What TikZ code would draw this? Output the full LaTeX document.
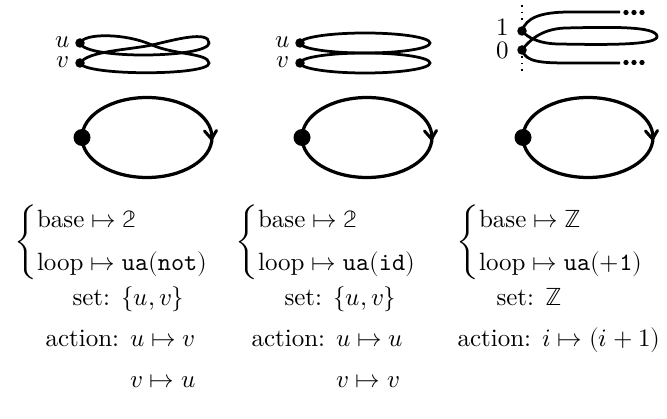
\documentclass[tikz,border=0pt]{standalone}
\usepackage{amsmath}
\usepackage{unicode-math}
\setmathfont{Latin Modern Math}
\usetikzlibrary{arrows.meta}
\tikzset{
  cover/.style={line width=1.1pt},
  circ/.style={line width=1.3pt},
  chevron/.style={line width=1.2pt,line cap=round,line join=round},
  sdot/.style={circle,fill,inner sep=0pt,minimum size=3.8pt},
  bdot/.style={circle,fill,inner sep=0pt,minimum size=6.8pt},
  tdot/.style={circle,fill,inner sep=0pt,minimum size=2.1pt},
  lab/.style={inner sep=0pt},
  txt/.style={inner sep=0pt,anchor=base west},
}
\begin{document}
\begin{tikzpicture}[x=0.4pt,y=-0.4pt]
\useasboundingbox (0,0) rectangle (667,419);
% ---------- column 1 top: swap cover ----------
\node[sdot] (u1) at (80,43) {};
\node[sdot] (v1) at (80,63) {};
\node[lab] (lu1) at (63,42) {$u$};
\node[lab] (lv1) at (63,62) {$v$};
\draw[cover] (u1.center) .. controls (84,33) and (125,33) .. (152,45)
  .. controls (175,55) and (208,53) .. (209,63)
  .. controls (210,76) and (84,76) .. (v1.center);
\draw[cover] (v1.center) .. controls (88,51) and (128,50) .. (152,45)
  .. controls (174,40) and (209,30) .. (209,43)
  .. controls (209,58) and (85,60) .. (u1.center);
% ---------- column 2 top: trivial cover ----------
\node[sdot] (u2) at (300,43) {};
\node[sdot] (v2) at (300,63) {};
\node[lab] (lu2) at (283,42) {$u$};
\node[lab] (lv2) at (283,62) {$v$};
\draw[cover] (365,43) ellipse [x radius=65,y radius=10];
\draw[cover] (365,63) ellipse [x radius=65,y radius=10];
% ---------- column 3 top: universal cover ----------
\node[sdot] (p1) at (522,31) {};
\node[sdot] (p0) at (522,50) {};
\node[lab] (l1) at (503,27) {$1$};
\node[lab] (l0) at (503,50) {$0$};
\draw[dotted,line width=0.7pt] (522,5) -- (522,25);
\draw[dotted,line width=0.7pt] (522,56) -- (522,73);
\draw[cover] (p1.center) .. controls (526,18) and (540,12) .. (570,12) -- (620,12);
\draw[cover] (p0.center) .. controls (526,62) and (540,63) .. (570,63) -- (620,63);
\draw[cover] (p0.center) .. controls (528,42) and (540,29) .. (565,28)
  .. controls (610,27) and (655,26) .. (657,36)
  .. controls (659,45) and (610,45) .. (560,44)
  .. controls (540,44) and (528,38) .. (p1.center);
\foreach \i/\x in {1/626,2/634,3/642}{
  \node[tdot] (ta\i) at (\x,12.5) {};
  \node[tdot] (tb\i) at (\x,62.5) {};
}
% ---------- row 2: circles ----------
\foreach \c/\cx in {1/147,2/367,3/588}{
  \draw[circ] (\cx,137.5) ellipse [x radius=65,y radius=40];
  \draw[chevron] (\cx+57.5,131) -- (\cx+64.5,139) -- (\cx+69.5,130.5);
  \node[bdot] (b\c) at (\cx-65,137.5) {};
}
% ---------- row 3: cases ----------
\node[inner sep=0pt,anchor=west] (m1) at (14,242)
  {$\begin{cases}\text{base}\mapsto\mathbb{2}\\[3pt]\text{loop}\mapsto\texttt{ua}(\texttt{not})\end{cases}$};
\node[inner sep=0pt,anchor=west] (m2) at (235,242)
  {$\begin{cases}\text{base}\mapsto\mathbb{2}\\[3pt]\text{loop}\mapsto\texttt{ua}(\texttt{id})\end{cases}$};
\node[inner sep=0pt,anchor=west] (m3) at (456,242)
  {$\begin{cases}\text{base}\mapsto\mathbb{Z}\\[3pt]\text{loop}\mapsto\texttt{ua}(+\texttt{1})\end{cases}$};
% ---------- row 4: set / action ----------
\node[txt] (s1) at (72,306) {set: $\{u,v\}$};
\node[txt] (a1) at (45,346) {action: $u\mapsto v$};
\node[txt] (r1) at (130,387) {$v\mapsto u$};
\node[txt] (s2) at (284,306) {set: $\{u,v\}$};
\node[txt] (a2) at (251,346) {action: $u\mapsto u$};
\node[txt] (r2) at (336,387) {$v\mapsto v$};
\node[txt] (s3) at (496,306) {set: $\mathbb{Z}$};
\node[txt] (a3) at (457,346) {action: $i\mapsto(i+1)$};
\end{tikzpicture}
\end{document}
